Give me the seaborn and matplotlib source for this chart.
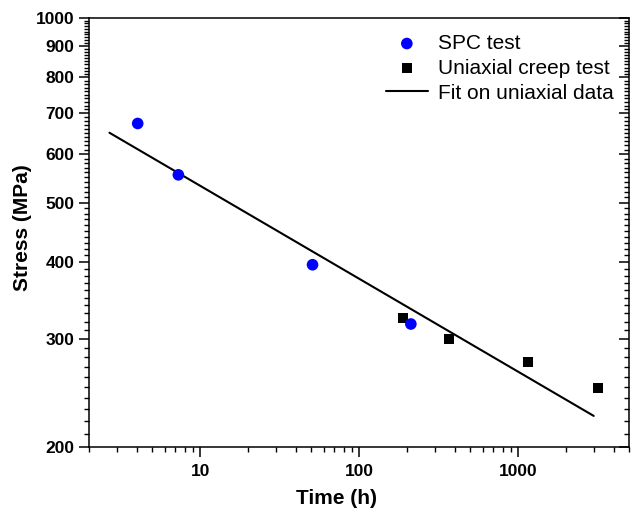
import matplotlib
matplotlib.use("Agg")
import matplotlib.pyplot as plt
import matplotlib.ticker as mticker
import seaborn as sns
import numpy as np
import pandas as pd

# Data
spc_time = [4.05, 7.3, 51.0, 212.0]
spc_stress = [673, 555, 396, 317]

uni_time = [190.0, 368.0, 1150.0, 3210.0]
uni_stress = [324, 299.5, 274.5, 249.5]

fit_time = [2.69, 3000.0]
fit_stress = [650, 224.5]

x_ticks = [10, 100, 1000]
y_ticks = [200, 300, 400, 500, 600, 700, 800, 900, 1000]

sns.set_theme(style="white")
plt.rcParams['font.family'] = ['Liberation Sans', 'DejaVu Sans']
plt.rcParams.update({"text.color": "black", "axes.labelcolor": "black",
                     "xtick.color": "black", "ytick.color": "black"})

fig = plt.figure(figsize=(6.31, 5.11), dpi=100)
ax = fig.add_axes([89/631, 1-446.7/511, (629-89)/631, (446.7-18)/511])

spc = pd.DataFrame({"t": spc_time, "s": spc_stress})
uni = pd.DataFrame({"t": uni_time, "s": uni_stress})
fit = pd.DataFrame({"t": fit_time, "s": fit_stress})

sns.scatterplot(data=spc, x="t", y="s", ax=ax, marker="o", color="#0000ff",
                s=70, edgecolor="none", label="SPC test", zorder=4)
sns.scatterplot(data=uni, x="t", y="s", ax=ax, marker="s", color="black",
                s=52, edgecolor="none", label="Uniaxial creep test", zorder=3)
sns.lineplot(data=fit, x="t", y="s", ax=ax, color="black", lw=1.5,
             label="Fit on uniaxial data", zorder=2)

ax.set_xscale("log")
ax.set_yscale("log")
ax.set_xlim(2, 5000)
ax.set_ylim(200, 1000)

ax.xaxis.set_major_locator(mticker.FixedLocator(x_ticks))
ax.xaxis.set_major_formatter(mticker.FixedFormatter([str(v) for v in x_ticks]))
ax.xaxis.set_minor_locator(mticker.LogLocator(base=10, subs=np.arange(2, 10)))
ax.xaxis.set_minor_formatter(mticker.NullFormatter())

minor_y = [v for v in range(200, 1001, 10) if v not in y_ticks]
ax.yaxis.set_major_locator(mticker.FixedLocator(y_ticks))
ax.yaxis.set_major_formatter(mticker.FixedFormatter([str(v) for v in y_ticks]))
ax.yaxis.set_minor_locator(mticker.FixedLocator(minor_y))
ax.yaxis.set_minor_formatter(mticker.NullFormatter())

for sp in ax.spines.values():
    sp.set_color("black")
    sp.set_linewidth(1.1)

ax.tick_params(axis="both", which="major", direction="out", length=7, width=1.1,
               color="black", labelcolor="black", labelsize=12.5,
               bottom=True, left=True, top=False, right=False)
ax.tick_params(axis="x", which="major", pad=5.5)
ax.tick_params(axis="both", which="minor", direction="out", length=3.5, width=1.0,
               color="black", bottom=True, left=True, top=False, right=False)
for lab in ax.get_xticklabels() + ax.get_yticklabels():
    lab.set_fontweight("bold")

# mirrored inward ticks on the right side
ax2 = ax.twinx()
ax2.set_yscale("log")
ax2.set_ylim(200, 1000)
ax2.yaxis.set_major_locator(mticker.FixedLocator(y_ticks))
ax2.yaxis.set_minor_locator(mticker.FixedLocator(minor_y))
ax2.yaxis.set_major_formatter(mticker.NullFormatter())
ax2.yaxis.set_minor_formatter(mticker.NullFormatter())
ax2.tick_params(axis="y", which="major", direction="in", length=7, width=1.1, color="black")
ax2.tick_params(axis="y", which="minor", direction="in", length=3.5, width=1.0, color="black")
for sp in ax2.spines.values():
    sp.set_visible(False)

ax.set_xlabel("Time (h)", fontsize=15, fontweight="bold", labelpad=7.5, color="black")
ax.set_ylabel("Stress (MPa)", fontsize=15, fontweight="bold", labelpad=3, color="black")
ax.xaxis.label.set_x(0.459)
ax.yaxis.label.set_y(0.512)

leg = ax.legend(loc="upper left", bbox_to_anchor=(386/631, 1-34/511),
                bbox_transform=fig.transFigure, frameon=False, fontsize=15,
                borderpad=0, borderaxespad=0, handlelength=2.0,
                handletextpad=0.5, labelspacing=0.28)
for t in leg.get_texts():
    t.set_color("black")

fig.savefig("out.png", dpi=100)
